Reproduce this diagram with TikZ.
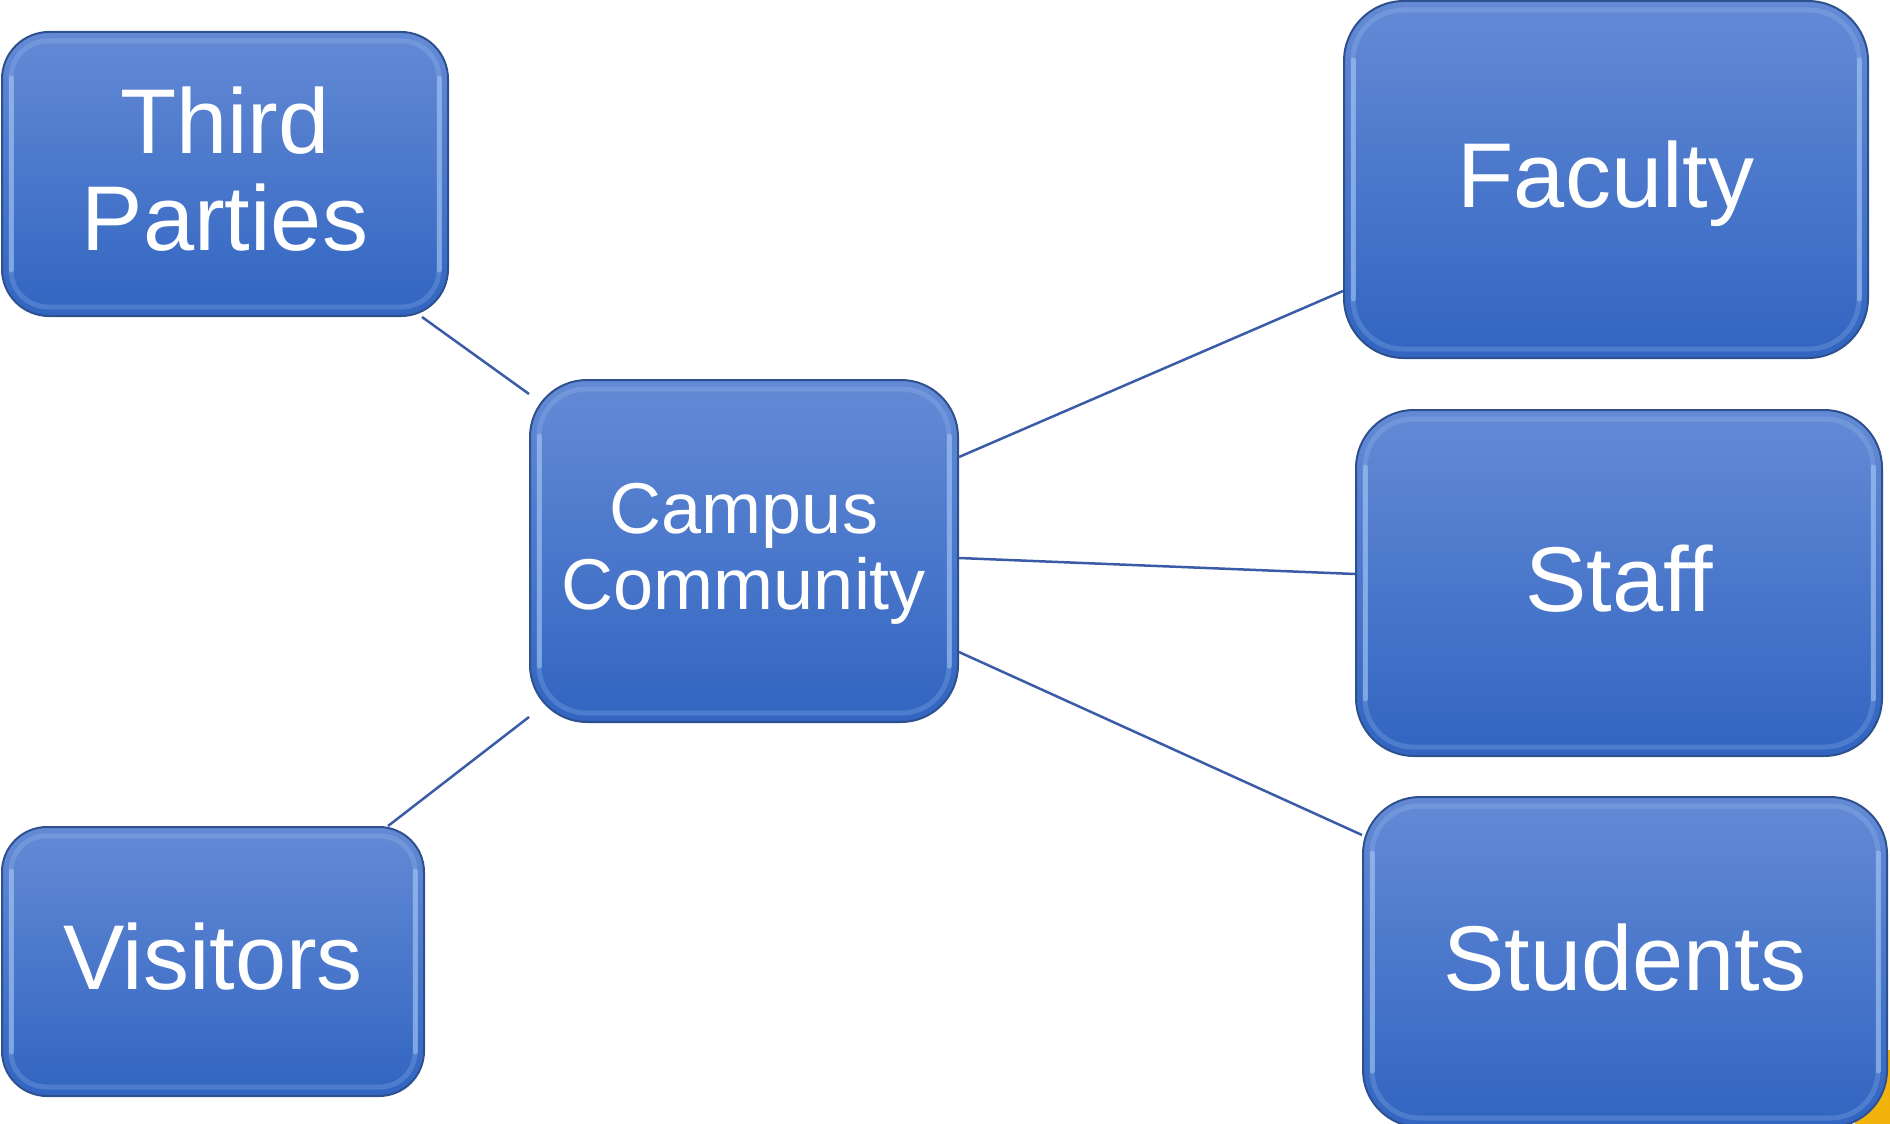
\documentclass[tikz,border=0pt]{standalone}
\usepackage{fontspec}
\setmainfont{Liberation Sans}
\definecolor{boxtop}{RGB}{100,138,213}
\definecolor{boxmid}{RGB}{70,120,210}
\definecolor{boxbot}{RGB}{49,101,193}
\definecolor{boxedge}{RGB}{46,80,142}
\definecolor{linecol}{RGB}{58,92,168}
\definecolor{bevelcol}{RGB}{170,205,248}
\definecolor{frag}{RGB}{242,180,10}
\tikzset{
  box/.style={rounded corners=#1, top color=boxtop, middle color=boxmid, bottom color=boxbot,
    draw=boxedge, line width=2pt, text=white, align=center, inner sep=0pt, text depth=10pt},
  bigtext/.style={font=\fontsize{92}{97}\selectfont, text height=66pt},
  twotext/.style={font=\fontsize{92}{97}\selectfont},
  cctext/.style={font=\fontsize{72}{76}\selectfont},
  bevelline/.style={draw=bevelcol, line width=5pt, opacity=0.22},
  bevelstrip/.style={draw=bevelcol, line width=5pt, opacity=0.5, line cap=round},
  conn/.style={draw=linecol, line width=2.5pt},
}
\newcommand\bevelbox[2]{%
  \draw[bevelline, rounded corners=#2] ([shift={(10,10)}]#1.north west) rectangle ([shift={(-10,-10)}]#1.south east);
  \draw[bevelstrip] ([shift={(10,#2+10)}]#1.north west) -- ([shift={(10,-#2-10)}]#1.south west);
  \draw[bevelstrip] ([shift={(-10,#2+10)}]#1.north east) -- ([shift={(-10,-#2-10)}]#1.south east);}
\begin{document}
\begin{tikzpicture}[x=1pt,y=-1pt]
\useasboundingbox (0,0) rectangle (1890,1124);
% fragment behind Students box
\fill[frag] (1855,1050) rectangle (1890,1124);
% boxes
\node[box=47, twotext, minimum width=446pt, minimum height=284pt] (tp) at (225,174) {Third\\Parties};
\bevelbox{tp}{37}
\node[box=60, bigtext, minimum width=524pt, minimum height=357pt] (fac) at (1606,179.5) {Faculty};
\bevelbox{fac}{50}
\node[box=58, bigtext, minimum width=526pt, minimum height=346pt] (staff) at (1619,583) {Staff};
\bevelbox{staff}{48}
\node[box=57, bigtext, minimum width=524pt, minimum height=330pt] (stud) at (1625,962) {Students};
\bevelbox{stud}{47}
\node[box=57, cctext, minimum width=428pt, minimum height=342pt] (cc) at (744,551) {Campus\\Community};
\bevelbox{cc}{47}
\node[box=45, bigtext, minimum width=422pt, minimum height=269pt] (vis) at (213,961.5) {Visitors};
\bevelbox{vis}{35}
% connectors
\draw[conn] ([shift={(-27,0)}]tp.south east) -- ([shift={(0,15)}]cc.north west);
\draw[conn] ([shift={(0,78)}]cc.north east) -- ([shift={(0,-68)}]fac.south west);
\draw[conn] ([shift={(0,7)}]cc.east) -- ([shift={(0,-9)}]staff.west);
\draw[conn] ([shift={(0,-71)}]cc.south east) -- ([shift={(0,39)}]stud.north west);
\draw[conn] ([shift={(-37,0)}]vis.north east) -- ([shift={(0,-6)}]cc.south west);
\end{tikzpicture}
\end{document}
